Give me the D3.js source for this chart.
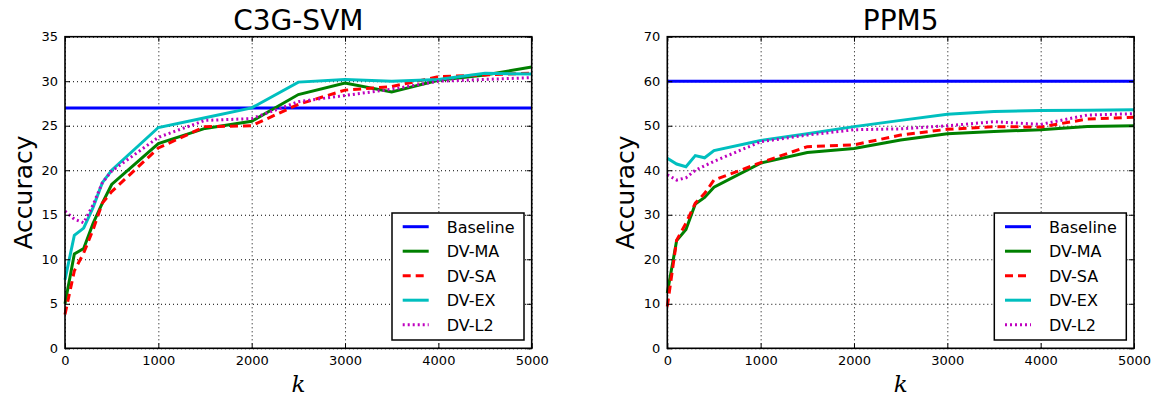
<!DOCTYPE html>
<html>
<head>
<meta charset="utf-8">
<script src="https://cdn.jsdelivr.net/npm/d3@7"></script>
<style>
  body { margin: 0; background: #fff; }
  text { font-family: "DejaVu Sans", sans-serif; fill: #000; }
</style>
</head>
<body>
<script>
// data
const kValues = [0, 100, 200, 300, 400, 500, 1000, 1500, 2000, 2500, 3000, 3500, 4000, 4500, 5000];
const seriesNames = ['Baseline', 'DV-MA', 'DV-SA', 'DV-EX', 'DV-L2'];

// C3G-SVM panel
const c3gBaseline = 27;
const c3gMA = [5.0, 10.6, 11.2, 14.0, 16.3, 18.4, 23.0, 24.7, 25.5, 28.5, 29.8, 28.8, 30.1, 30.7, 31.6];
const c3gSA = [3.8, 8.7, 10.7, 13.3, 16.3, 17.6, 22.5, 24.9, 25.0, 27.4, 29.0, 29.4, 30.5, 30.7, 30.9];
const c3gEX = [7.7, 12.7, 13.5, 15.8, 18.6, 20.0, 24.8, 25.9, 27.0, 29.9, 30.2, 30.0, 30.2, 30.9, 30.8];
const c3gL2 = [15.4, 14.5, 14.1, 16.1, 18.6, 19.9, 23.7, 25.6, 25.8, 27.7, 28.4, 29.1, 30.0, 30.2, 30.4];
const c3gYTicks = [0, 5, 10, 15, 20, 25, 30, 35];

// PPM5 panel
const ppmBaseline = 60;
const ppmMA = [12.4, 24.2, 26.7, 32.4, 33.9, 36.2, 41.6, 44.0, 44.9, 46.8, 48.2, 48.7, 49.1, 49.8, 50.0];
const ppmSA = [9.4, 24.3, 28.1, 32.6, 34.8, 37.8, 41.7, 45.3, 45.7, 47.9, 49.2, 49.8, 49.7, 51.5, 51.9];
const ppmEX = [42.7, 41.4, 40.8, 43.3, 42.8, 44.4, 46.7, 48.2, 49.8, 51.2, 52.6, 53.2, 53.4, 53.5, 53.6];
const ppmL2 = [39.0, 37.8, 38.3, 40.0, 41.0, 42.0, 46.4, 47.9, 49.1, 49.3, 50.0, 50.9, 50.3, 52.4, 52.7];
const ppmYTicks = [0, 10, 20, 30, 40, 50, 60, 70];

const xTicks = [0, 1000, 2000, 3000, 4000, 5000];

// styles
const seriesColors = ['#0000ff', '#008000', '#ff0000', '#00bfbf', '#bf00bf'];
const seriesDash = [null, null, '8,5', null, '2,3'];
const lineWidth = 3;

const svgWidth = 1153;
const svgHeight = 399;
const plotTop = 36.7;
const plotHeight = 311.6;
const plotWidth = 466.7;

const svg = d3.select('body')
              .append('svg')
              .attr('width', svgWidth)
              .attr('height', svgHeight);

svg.append('rect')
   .attr('width', svgWidth)
   .attr('height', svgHeight)
   .attr('fill', '#fff');

function drawPanel(left, title, yMax, yTicks, baseline, series) {

    const g = svg.append('g')
                 .attr('transform', 'translate(' + left + ',' + plotTop + ')');

    const xScale = d3.scaleLinear().domain([0, 5000]).range([0, plotWidth]);
    const yScale = d3.scaleLinear().domain([0, yMax]).range([plotHeight, 0]);

    // dotted grid
    const xGrid = d3.axisBottom(xScale).tickValues(xTicks).tickSize(-plotHeight).tickFormat('');
    const yGrid = d3.axisLeft(yScale).tickValues(yTicks).tickSize(-plotWidth).tickFormat('');
    g.append('g').attr('class', 'grid')
     .attr('transform', 'translate(0,' + plotHeight + ')')
     .call(xGrid);
    g.append('g').attr('class', 'grid').call(yGrid);
    g.selectAll('.grid .domain').remove();
    g.selectAll('.grid line')
     .attr('stroke', '#000')
     .attr('stroke-width', 1)
     .attr('stroke-dasharray', '1,3');

    // series lines
    const lineGen = d3.line()
                      .x((d, i) => xScale(kValues[i]))
                      .y(d => yScale(d));
    const allSeries = [kValues.map(() => baseline)].concat(series);
    g.selectAll('path.series')
     .data(allSeries)
     .enter()
     .append('path')
     .attr('class', 'series')
     .attr('d', lineGen)
     .attr('fill', 'none')
     .attr('stroke', (d, i) => seriesColors[i])
     .attr('stroke-width', lineWidth)
     .attr('stroke-dasharray', (d, i) => seriesDash[i]);

    // axes with inward ticks on every side
    const axes = [
        {axis: d3.axisBottom(xScale).tickValues(xTicks).tickFormat(d3.format('d')), t: 'translate(0,' + plotHeight + ')'},
        {axis: d3.axisTop(xScale).tickValues(xTicks).tickFormat(''), t: null},
        {axis: d3.axisLeft(yScale).tickValues(yTicks), t: null},
        {axis: d3.axisRight(yScale).tickValues(yTicks).tickFormat(''), t: 'translate(' + plotWidth + ',0)'}
    ];
    axes.forEach(a => {
        const ag = g.append('g')
                    .attr('class', 'axis')
                    .call(a.axis.tickSize(-5).tickPadding(7).tickSizeOuter(0));
        if (a.t) ag.attr('transform', a.t);
        ag.select('.domain').remove();
        ag.selectAll('line').attr('stroke', '#000').attr('stroke-width', 1);
        ag.selectAll('text')
          .style('font-family', '"DejaVu Sans", sans-serif')
          .style('font-size', '13px')
          .attr('fill', '#000');
    });

    // plot border
    g.append('rect')
     .attr('width', plotWidth)
     .attr('height', plotHeight)
     .attr('fill', 'none')
     .attr('stroke', '#000')
     .attr('stroke-width', 1.6);

    // title and axis labels
    g.append('text')
     .attr('x', plotWidth / 2)
     .attr('y', -6.5)
     .attr('text-anchor', 'middle')
     .style('font-size', '28px')
     .text(title);

    g.append('text')
     .attr('transform', 'translate(-33,' + plotHeight / 2 + ') rotate(-90)')
     .attr('text-anchor', 'middle')
     .style('font-size', '25px')
     .text('Accuracy');

    g.append('text')
     .attr('x', plotWidth / 2)
     .attr('y', plotHeight + 44)
     .attr('text-anchor', 'middle')
     .style('font-family', '"DejaVu Serif", serif')
     .style('font-style', 'italic')
     .style('font-size', '23px')
     .text('k');

    // legend
    const legend = g.append('g')
                    .attr('transform', 'translate(' + (plotWidth - 139.7) + ',' + (213 - plotTop) + ')');
    legend.append('rect')
          .attr('width', 132)
          .attr('height', 127)
          .attr('fill', '#fff')
          .attr('stroke', '#000')
          .attr('stroke-width', 1.5);
    const rows = legend.selectAll('g.legendRow')
                       .data(seriesNames)
                       .enter()
                       .append('g')
                       .attr('class', 'legendRow')
                       .attr('transform', (d, i) => 'translate(0,' + (13.7 + i * 24.5) + ')');
    rows.append('line')
        .attr('x1', 10.7)
        .attr('x2', 36.7)
        .attr('stroke', (d, i) => seriesColors[i])
        .attr('stroke-width', lineWidth)
        .attr('stroke-dasharray', (d, i) => seriesDash[i]);
    rows.append('text')
        .attr('x', 54.7)
        .attr('y', 6)
        .style('font-size', '16px')
        .text(d => d);
}

drawPanel(65, 'C3G-SVM', 35, c3gYTicks, c3gBaseline, [c3gMA, c3gSA, c3gEX, c3gL2]);
drawPanel(667.3, 'PPM5', 70, ppmYTicks, ppmBaseline, [ppmMA, ppmSA, ppmEX, ppmL2]);
</script>
</body>
</html>
